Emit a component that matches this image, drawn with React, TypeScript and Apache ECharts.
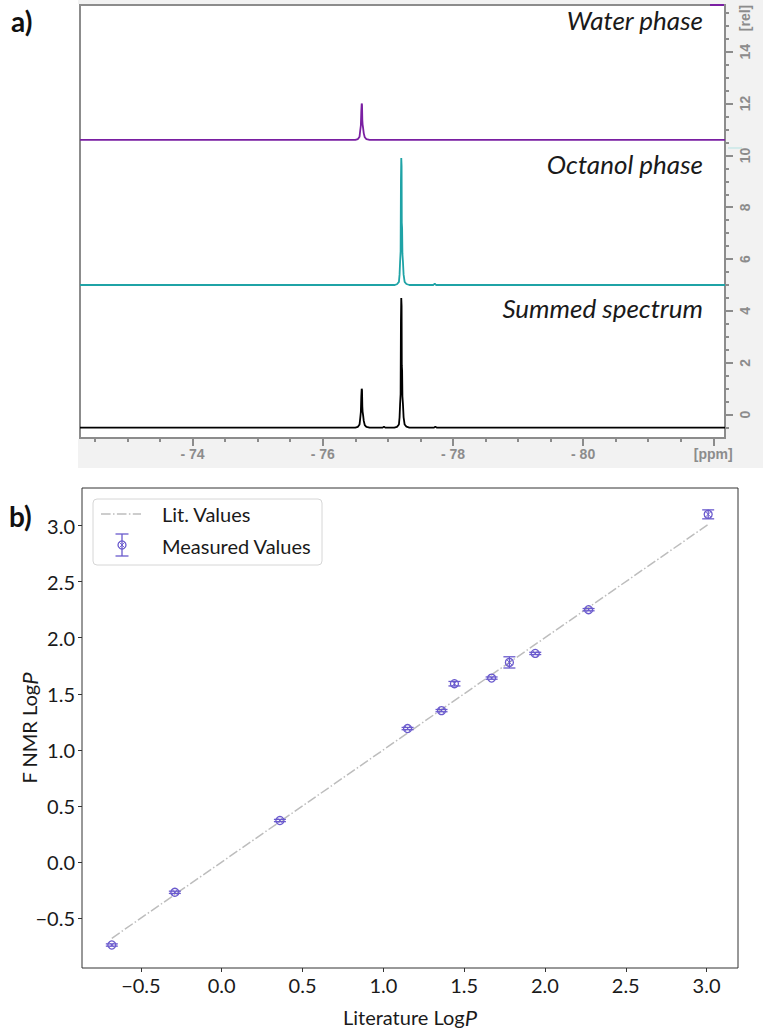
import React, { useEffect, useRef } from "react";
import * as echarts from "echarts";

// ---------- a) 19F NMR spectra (ppm, intensity above each trace's own baseline) ----------
const waterPpm = [-72.27, -76.5, -76.54, -76.565, -76.575, -76.585, -76.592, -76.598, -76.603, -76.608, -76.612, -76.62, -76.63, -76.645, -76.67, -76.72, -82.18];
const waterInt = [0, 0, 0.03, 0.12, 0.35, 0.55, 1.1, 1.4, 1.35, 0.75, 0.6, 0.45, 0.25, 0.1, 0.03, 0, 0];

const octanolPpm = [-72.27, -77.1, -77.14, -77.17, -77.18, -77.188, -77.196, -77.201, -77.206, -77.211, -77.214, -77.219, -77.224, -77.232, -77.242, -77.258, -77.285, -77.33, -77.7, -77.72, -77.74, -82.18];
const octanolInt = [0, 0, 0.03, 0.12, 0.4, 0.9, 1.3, 4.0, 4.9, 4.6, 2.4, 2.2, 1.2, 0.9, 0.4, 0.12, 0.04, 0, 0, 0.06, 0, 0];

const summedPpm = [-72.27, -76.5, -76.54, -76.565, -76.575, -76.585, -76.592, -76.598, -76.603, -76.608, -76.612, -76.62, -76.63, -76.645, -76.67, -76.72, -76.92, -76.94, -76.96, -77.1, -77.14, -77.17, -77.18, -77.188, -77.196, -77.201, -77.206, -77.211, -77.214, -77.219, -77.224, -77.232, -77.242, -77.258, -77.285, -77.33, -77.71, -77.73, -77.75, -82.18];
const summedInt = [0, 0, 0.03, 0.12, 0.35, 0.6, 1.2, 1.5, 1.45, 0.8, 0.62, 0.47, 0.26, 0.1, 0.03, 0, 0, 0.04, 0, 0, 0.03, 0.12, 0.4, 0.9, 1.3, 4.1, 5.0, 4.7, 2.4, 2.2, 1.2, 0.9, 0.4, 0.12, 0.04, 0, 0, 0.04, 0, 0];

// vertical stacking offsets of the three traces [rel]
const waterOffset = 10.6;
const octanolOffset = 5.0;
const summedOffset = -0.5;

const ppmRange = [-82.18, -72.27];
const relRange = [-0.9, 15.8];
const ppmMajorTicks = [-74, -76, -78, -80, -82];
const relMajorTicks = [0, 2, 4, 6, 8, 10, 12, 14];

// ---------- b) logP comparison ----------
const litLogP = [-0.68, -0.29, 0.36, 1.15, 1.36, 1.44, 1.67, 1.78, 1.94, 2.27, 3.01];
const nmrLogP = [-0.74, -0.27, 0.37, 1.19, 1.35, 1.59, 1.64, 1.78, 1.86, 2.25, 3.1];
const nmrErr = [0.01, 0.01, 0.01, 0.01, 0.01, 0.02, 0.01, 0.05, 0.01, 0.01, 0.04];
const litLine = [-0.68, 3.01];
const logPTicks = [-0.5, 0, 0.5, 1, 1.5, 2, 2.5, 3];
const logPXRange = [-0.8645, 3.1945];
const logPYRange = [-0.945, 3.335];

const PURPLE = "#7a1fa2";
const TEAL = "#1fa3a6";
const SLATE = "#6a5acd";
const TS_GRAY = "#8c8c8c";
const CAL = "Lato, 'Open Sans', sans-serif";

function steps(from: number, to: number, step: number): number[] {
  const out: number[] = [];
  for (let v = from; v <= to + 1e-9; v += step) out.push(Math.round(v * 100) / 100);
  return out;
}

function errorBarGroup(cx: number, cy: number, yTop: number, yBot: number, cap: number) {
  const st = { stroke: SLATE, lineWidth: 1.3, fill: "none" };
  const d = 2.6;
  return {
    type: "group",
    children: [
      { type: "line", shape: { x1: cx, y1: yTop, x2: cx, y2: yBot }, style: st },
      { type: "line", shape: { x1: cx - cap, y1: yTop, x2: cx + cap, y2: yTop }, style: st },
      { type: "line", shape: { x1: cx - cap, y1: yBot, x2: cx + cap, y2: yBot }, style: st },
      { type: "circle", shape: { cx, cy, r: 4 }, style: { stroke: SLATE, lineWidth: 1.3, fill: "rgba(255,255,255,0)" } },
      { type: "line", shape: { x1: cx - d, y1: cy - d, x2: cx + d, y2: cy + d }, style: { stroke: SLATE, lineWidth: 0.9 } },
      { type: "line", shape: { x1: cx - d, y1: cy + d, x2: cx + d, y2: cy - d }, style: { stroke: SLATE, lineWidth: 0.9 } },
    ],
  };
}

export default function App() {
  const ref = useRef<HTMLDivElement>(null);

  useEffect(() => {
    if (!ref.current) return;
    const chart = echarts.init(ref.current, undefined, { renderer: "svg" });

    const ppmMinor = steps(-82, -72.5, 0.5);
    const relMinor = steps(-0.5, 15.5, 0.5);

    const spectrumAxisLabel = {
      color: TS_GRAY,
      fontFamily: "'Liberation Sans', Arial, sans-serif",
      fontWeight: "bold",
      fontSize: 14,
    };
    const noLine = { show: false, onZero: false };
    const logPLabelFmt = (v: number) => (v < 0 ? "\u2212" : "") + Math.abs(v).toFixed(1);

    const option: any = {
      animation: false,
      backgroundColor: "#ffffff",
      grid: [
        {
          left: 80, top: 5, width: 645, height: 433,
          show: true, backgroundColor: "#ffffff", borderColor: TS_GRAY, borderWidth: 2,
          containLabel: false, outerBoundsMode: "none",
        },
        {
          left: 82, top: 488, width: 656, height: 480,
          show: true, backgroundColor: "#ffffff", borderColor: "#333333", borderWidth: 1,
          containLabel: false, outerBoundsMode: "none",
        },
      ],
      xAxis: [
        {
          gridIndex: 0, type: "value", min: ppmRange[0], max: ppmRange[1], inverse: true, position: "bottom",
          axisLine: noLine, splitLine: { show: false },
          axisTick: { show: true, customValues: ppmMajorTicks, length: 8, lineStyle: { color: TS_GRAY, width: 2 } },
          axisLabel: {
            ...spectrumAxisLabel, margin: 9, customValues: ppmMajorTicks,
            formatter: (v: number) => (v <= -81.9 ? "[ppm]" : "- " + Math.abs(v)),
          },
        },
        {
          gridIndex: 0, type: "value", min: ppmRange[0], max: ppmRange[1], inverse: true, position: "bottom",
          axisLine: noLine, splitLine: { show: false }, axisLabel: { show: false },
          axisTick: { show: true, customValues: ppmMinor, length: 4, lineStyle: { color: TS_GRAY, width: 2 } },
        },
        {
          gridIndex: 1, type: "value", min: logPXRange[0], max: logPXRange[1], position: "bottom",
          axisLine: noLine, splitLine: { show: false },
          axisTick: { show: true, customValues: logPTicks, length: 4, lineStyle: { color: "#333", width: 1 } },
          axisLabel: {
            customValues: logPTicks, color: "#1a1a1a", fontFamily: CAL, fontSize: 20, margin: 7,
            formatter: logPLabelFmt,
          },
          name: "Literature Log{i|P}", nameLocation: "middle", nameGap: 38, nameMoveOverlap: false,
          nameTextStyle: {
            color: "#1a1a1a", fontFamily: CAL, fontSize: 20,
            rich: { i: { fontStyle: "italic", fontFamily: CAL, fontSize: 22, color: "#1a1a1a" } },
          },
        },
      ],
      yAxis: [
        {
          gridIndex: 0, type: "value", min: relRange[0], max: relRange[1], position: "right",
          axisLine: noLine, splitLine: { show: false },
          axisTick: { show: true, customValues: relMajorTicks, length: 8, lineStyle: { color: TS_GRAY, width: 2 } },
          axisLabel: {
            ...spectrumAxisLabel, margin: 13, rotate: 90, customValues: [...relMajorTicks, 15.3],
            formatter: (v: number) => (v > 15 ? "[rel]" : String(v)),
          },
        },
        {
          gridIndex: 0, type: "value", min: relRange[0], max: relRange[1], position: "right",
          axisLine: noLine, splitLine: { show: false }, axisLabel: { show: false },
          axisTick: { show: true, customValues: relMinor, length: 4, lineStyle: { color: TS_GRAY, width: 2 } },
        },
        {
          gridIndex: 1, type: "value", min: logPYRange[0], max: logPYRange[1], position: "left",
          axisLine: noLine, splitLine: { show: false },
          axisTick: { show: true, customValues: logPTicks, length: 4, lineStyle: { color: "#333", width: 1 } },
          axisLabel: {
            customValues: logPTicks, color: "#1a1a1a", fontFamily: CAL, fontSize: 20, margin: 7,
            formatter: logPLabelFmt,
          },
          name: "F NMR Log{i|P}", nameLocation: "middle", nameGap: 42, nameRotate: 90, nameMoveOverlap: false,
          nameTextStyle: {
            color: "#1a1a1a", fontFamily: CAL, fontSize: 20,
            rich: { i: { fontStyle: "italic", fontFamily: CAL, fontSize: 22, color: "#1a1a1a" } },
          },
        },
      ],
      series: [
        {
          name: "Water phase", type: "line", xAxisIndex: 0, yAxisIndex: 0, showSymbol: false, z: 3,
          data: waterPpm.map((p, i) => [p, waterOffset + waterInt[i]]),
          lineStyle: { color: PURPLE, width: 1.8 },
        },
        {
          name: "Octanol phase", type: "line", xAxisIndex: 0, yAxisIndex: 0, showSymbol: false, z: 3,
          data: octanolPpm.map((p, i) => [p, octanolOffset + octanolInt[i]]),
          lineStyle: { color: TEAL, width: 1.8 },
        },
        {
          name: "Summed spectrum", type: "line", xAxisIndex: 0, yAxisIndex: 0, showSymbol: false, z: 3,
          data: summedPpm.map((p, i) => [p, summedOffset + summedInt[i]]),
          lineStyle: { color: "#000000", width: 1.8 },
        },
        {
          name: "Lit. Values", type: "line", xAxisIndex: 2, yAxisIndex: 2, showSymbol: false, z: 2,
          data: litLine.map((v) => [v, v]),
          lineStyle: { color: "#bdbdbd", width: 1.5, type: [9.6, 2.4, 1.5, 2.4] },
        },
        {
          name: "Measured Values", type: "custom", xAxisIndex: 2, yAxisIndex: 2, z: 4,
          data: litLogP.map((x, i) => [x, nmrLogP[i], nmrErr[i]]),
          encode: { x: 0, y: 1 },
          renderItem: (_params: any, api: any) => {
            const x = api.value(0);
            const y = api.value(1);
            const e = api.value(2);
            const c = api.coord([x, y]);
            const t = api.coord([x, y + e]);
            const b = api.coord([x, y - e]);
            return errorBarGroup(c[0], c[1], t[1], b[1], 6);
          },
        },
      ],
      graphic: [
        // light grey frame of the spectrum display
        { type: "rect", silent: true, shape: { x: 78, y: 0, width: 685, height: 4 }, style: { fill: "#f2f2f2" } },
        { type: "rect", silent: true, shape: { x: 78, y: 439, width: 685, height: 29 }, style: { fill: "#f2f2f2" } },
        { type: "rect", silent: true, shape: { x: 726, y: 0, width: 37, height: 468 }, style: { fill: "#f2f2f2" }, z: -1 },
        { type: "line", silent: true, shape: { x1: 710, y1: 5, x2: 724, y2: 5 }, style: { stroke: PURPLE, lineWidth: 2 } },
        { type: "line", silent: true, shape: { x1: 728, y1: 148, x2: 742, y2: 148 }, style: { stroke: "#b5e3e3", lineWidth: 1 } },
        // panel letters
        { type: "text", x: 11, y: 21, style: { text: "a)", font: `bold 28px ${CAL}`, fill: "#111", textVerticalAlign: "middle" } },
        { type: "text", x: 9, y: 516, style: { text: "b)", font: `bold 28px ${CAL}`, fill: "#111", textVerticalAlign: "middle" } },
        // trace captions
        { type: "text", x: 703, y: 20, z: 10, style: { text: "Water phase", font: `italic 26px ${CAL}`, fill: "#1a1a1a", textAlign: "right", textVerticalAlign: "middle" } },
        { type: "text", x: 703, y: 164, z: 10, style: { text: "Octanol phase", font: `italic 26px ${CAL}`, fill: "#1a1a1a", textAlign: "right", textVerticalAlign: "middle" } },
        { type: "text", x: 703, y: 308, z: 10, style: { text: "Summed spectrum", font: `italic 26px ${CAL}`, fill: "#1a1a1a", textAlign: "right", textVerticalAlign: "middle" } },
        // legend of panel b
        {
          type: "group", z: 20,
          children: [
            { type: "rect", shape: { x: 93, y: 499, width: 229, height: 66, r: 4 }, style: { fill: "rgba(255,255,255,0.85)", stroke: "#d6d6d6", lineWidth: 1 } },
            { type: "line", shape: { x1: 101, y1: 514, x2: 141, y2: 514 }, style: { stroke: "#bdbdbd", lineWidth: 1.5, lineDash: [9.6, 2.4, 1.5, 2.4] } },
            { type: "text", x: 162, y: 514, style: { text: "Lit. Values", font: `20px ${CAL}`, fill: "#1a1a1a", textVerticalAlign: "middle" } },
            errorBarGroup(122, 545, 534, 556, 6.5),
            { type: "text", x: 162, y: 546, style: { text: "Measured Values", font: `20px ${CAL}`, fill: "#1a1a1a", textVerticalAlign: "middle" } },
          ],
        },
      ],
    };

    chart.setOption(option);
    return () => chart.dispose();
  }, []);

  return (
    <div
      ref={ref}
      style={{ position: "fixed", left: 0, top: 0, width: 763, height: 1029, background: "#fff" }}
    />
  );
}
